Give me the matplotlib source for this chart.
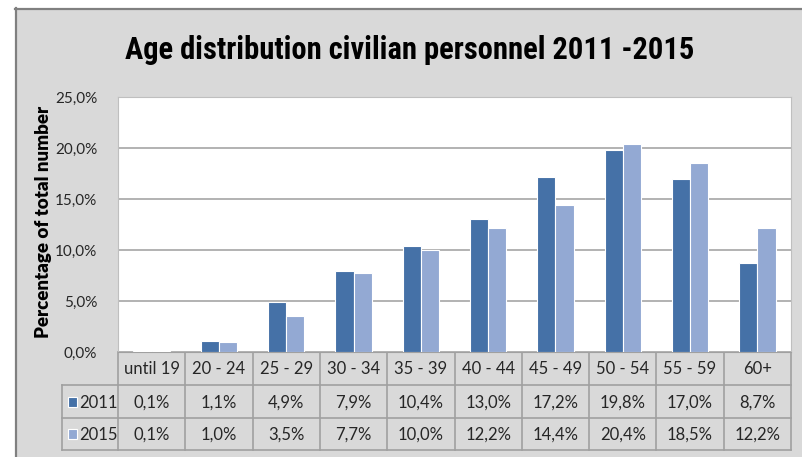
import matplotlib
matplotlib.use("Agg")
import matplotlib.pyplot as plt
from matplotlib import font_manager
from matplotlib.patches import Rectangle

categories = ["until 19", "20 - 24", "25 - 29", "30 - 34", "35 - 39",
              "40 - 44", "45 - 49", "50 - 54", "55 - 59", "60+"]
series_names = ["2011", "2015"]
values_2011 = [0.1, 1.1, 4.9, 7.9, 10.4, 13.0, 17.2, 19.8, 17.0, 8.7]
values_2015 = [0.1, 1.0, 3.5, 7.7, 10.0, 12.2, 14.4, 20.4, 18.5, 12.2]
yticks = [0, 5, 10, 15, 20, 25]
title = "Age distribution civilian personnel 2011 -2015"
ylabel = "Percentage of total number"

C2011 = "#4571a7"
C2015 = "#93a9d3"
BG = "#d9d9d9"
GRID = "#a6a6a6"
TLINE = "#a0a0a0"


def pick(fams):
    avail = {f.name for f in font_manager.fontManager.ttflist}
    for f in fams:
        if f in avail:
            return f
    return "DejaVu Sans"


TITLE_FONT = pick(["Liberation Sans Narrow", "Roboto Condensed", "Open Sans Condensed",
                   "Lato", "Open Sans"])
BODY_FONT = pick(["Lato", "Open Sans", "DejaVu Sans"])

W, H = 802, 457
fig = plt.figure(figsize=(W / 100, H / 100), dpi=100)
fig.patch.set_facecolor("white")

# overlay axes in pixel coords
ov = fig.add_axes([0, 0, 1, 1], zorder=0)
ov.set_xlim(0, W)
ov.set_ylim(H, 0)
ov.axis("off")
ov.add_patch(Rectangle((15, 8), W - 15, H - 8, facecolor=BG, edgecolor="none"))
ov.plot([15.5, 15.5], [8, H], color="#808080", lw=1.6)
ov.plot([15, W], [8.5, 8.5], color="#808080", lw=1.6)

PL, PR, PT, PB = 118, 791, 97, 352
ax = fig.add_axes([PL / W, 1 - PB / H, (PR - PL) / W, (PB - PT) / H], zorder=2)
ax.set_facecolor("white")
n = len(categories)
x = list(range(n))
bw = 0.27
ax.bar([i - bw / 2 for i in x], values_2011, width=bw, color=C2011,
       edgecolor="white", linewidth=0.8, zorder=3)
ax.bar([i + bw / 2 for i in x], values_2015, width=bw, color=C2015,
       edgecolor="white", linewidth=0.8, zorder=3)
ax.set_xlim(-0.5, n - 0.5)
ax.set_ylim(0, 25)
ax.set_yticks(yticks)
ax.set_yticklabels([f"{v:.1f}%".replace(".", ",") for v in yticks],
                   fontfamily=BODY_FONT, fontsize=11, color="#262626")
ax.tick_params(axis="y", length=0, pad=15)
ax.set_xticks([])
ax.yaxis.grid(True, color=GRID, lw=1.2, zorder=0)
ax.set_axisbelow(True)
for s in ["top", "right", "left"]:
    ax.spines[s].set_color("#bfbfbf")
ax.spines["bottom"].set_color(TLINE)

# title
t = fig.text(410 / W, 1 - 50 / H, title, ha="center", va="center",
             fontfamily=TITLE_FONT, fontweight="bold", fontsize=26, color="black")
fig.canvas.draw()
r = fig.canvas.get_renderer()
wpx = t.get_window_extent(r).width
t.set_fontsize(26 * 571 / wpx)

# y label
yl = fig.text(44 / W, 1 - 222 / H, ylabel, rotation=90, ha="center", va="center",
              fontfamily=BODY_FONT, fontweight="heavy", fontsize=11, color="black")
fig.canvas.draw()
hpx = yl.get_window_extent(r).height
yl.set_fontsize(11 * 232 / hpx)

# table
colw = (PR - PL) / n
rows_y = [352, 385, 418, 450]
LX = 62
for yy in rows_y[1:]:
    ov.plot([LX, PR], [yy, yy], color=TLINE, lw=1.2, zorder=1)
ov.plot([LX, LX], [rows_y[1], rows_y[3]], color=TLINE, lw=1.2)
for i in range(n + 1):
    xx = PL + i * colw
    ov.plot([xx, xx], [rows_y[0], rows_y[3]], color=TLINE, lw=1.2)

fs = 12
for i, c in enumerate(categories):
    cx = PL + (i + 0.5) * colw
    ov.text(cx, (rows_y[0] + rows_y[1]) / 2 + 1, c, ha="center", va="center",
            fontfamily=BODY_FONT, fontsize=fs, color="#262626")
    for j, vals in enumerate([values_2011, values_2015]):
        ov.text(cx, (rows_y[j + 1] + rows_y[j + 2]) / 2 + 1,
                f"{vals[i]:.1f}%".replace(".", ","), ha="center", va="center",
                fontfamily=BODY_FONT, fontsize=fs, color="#262626")

for j, (name, col) in enumerate(zip(series_names, [C2011, C2015])):
    cy = (rows_y[j + 1] + rows_y[j + 2]) / 2
    ov.add_patch(Rectangle((68, cy - 5), 8.5, 10, facecolor=col,
                           edgecolor="white", lw=0.8))
    ov.text(79, cy + 1, name, ha="left", va="center",
            fontfamily=BODY_FONT, fontsize=fs, color="#262626")

fig.savefig("out.png", dpi=100, facecolor=fig.get_facecolor())
